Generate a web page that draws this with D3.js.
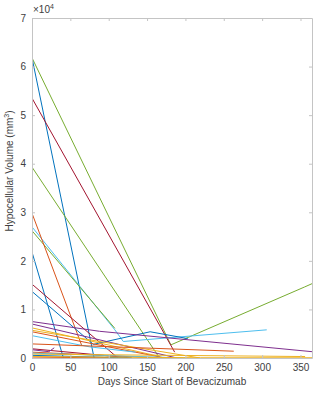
<!DOCTYPE html>
<html>
<head>
<meta charset="utf-8">
<script src="https://cdn.jsdelivr.net/npm/d3@7"></script>
<style>
  body { margin: 0; background: #fff; }
  text { font-family: "Liberation Sans", Arial, sans-serif; fill: #404040; }
</style>
</head>
<body>
<script>
// ---- data : [days since start, hypocellular volume mm3] per patient ----
var p01 = [[0, 61800], [181, 2700], [355, 14600], [365, 15300]];
var p02 = [[0, 61800], [81, 0]];
var p03 = [[0, 53500], [186, 1200]];
var p04 = [[0, 39300], [165, 300]];
var p05 = [[0, 27000], [108, 5800], [119, 3400], [306, 5800]];
var p06 = [[0, 26200], [108, 6100]];
var p07 = [[0, 29800], [65, 2500]];
var p08 = [[0, 21800], [41, 0]];
var p09 = [[0, 15200], [112, 0]];
var p10 = [[0, 13700], [80, 2800], [154, 5400], [203, 4000]];
var p11 = [[0, 7500], [88, 5500], [365, 1300]];
var p12 = [[0, 7000], [189, 0]];
var p13 = [[0, 6200], [167, 300]];
var p14 = [[0, 5700], [219, 0]];
var p15 = [[0, 5400], [170, 100]];
var p16 = [[0, 4600], [75, 2300], [135, 1200]];
var p17 = [[0, 2900], [263, 1400]];
var p18 = [[0, 1900], [130, 0]];
var p19 = [[0, 1700], [22, 1300], [29, 2100]];
var p20 = [[0, 1200], [165, 0]];
var p21 = [[0, 1000], [200, 0]];
var p22 = [[0, 550], [130, 0]];
var p23 = [[0, 200], [100, 0]];
var p24 = [[0, 800], [356, 300]];
var p25 = [[0, 300], [220, 50], [365, 50]];

var patients = [p01, p02, p03, p04, p05, p06, p07, p08, p09, p10, p11, p12, p13,
                p14, p15, p16, p17, p18, p19, p20, p21, p22, p23, p24, p25];

var xTicks = [0, 50, 100, 150, 200, 250, 300, 350];
var yTicks = [0, 10000, 20000, 30000, 40000, 50000, 60000, 70000];

// matlab line colours, one per patient
var blue = "#0072BD", orange = "#D95319", yellow = "#EDB120", purple = "#7E2F8E",
    green = "#77AC30", cyan = "#4DBEEE", red = "#A2142F";
var colors = [green, blue, red, green, cyan, green, orange, blue, red, blue, purple, purple, yellow,
              yellow, orange, cyan, orange, red, purple, orange, cyan, blue, orange, yellow, yellow];

// ---- chart ----
var W = 328, H = 400;
var margin = {top: 18, right: 16, bottom: 42, left: 32};

var svg = d3.select("body").append("svg")
    .attr("width", W)
    .attr("height", H);

var x = d3.scaleLinear().domain([0, 365]).range([margin.left, W - margin.right]);
var y = d3.scaleLinear().domain([0, 70000]).range([H - margin.bottom, margin.top]);

var line = d3.line()
    .x(function(d) { return x(d[0]); })
    .y(function(d) { return y(d[1]); });

var clip = svg.append("clipPath").attr("id", "clip")
  .append("rect")
    .attr("x", x(0)).attr("y", y(70000))
    .attr("width", x(365) - x(0)).attr("height", y(0) - y(70000));

svg.append("g")
    .attr("clip-path", "url(#clip)")
  .selectAll("path")
  .data(patients)
  .enter().append("path")
    .attr("d", line)
    .attr("fill", "none")
    .attr("stroke", function(d, i) { return colors[i]; })
    .attr("stroke-width", 1);

// axes (box with inward ticks, like matlab)
var axisColor = "#c4c4c4";
function styleAxis(g) {
  g.select(".domain").attr("stroke", axisColor);
  g.selectAll(".tick line").attr("stroke", axisColor);
  g.selectAll("text").attr("font-size", 10).attr("fill", "#404040")
    .style("font-family", "'Liberation Sans', Arial, sans-serif");
}

svg.append("g")
    .attr("transform", "translate(0," + y(0) + ")")
    .call(d3.axisBottom(x).tickValues(xTicks).tickSizeInner(-3).tickSizeOuter(0).tickPadding(6))
    .call(styleAxis);

svg.append("g")
    .attr("transform", "translate(0," + y(70000) + ")")
    .call(d3.axisTop(x).tickValues(xTicks).tickSizeInner(-3).tickSizeOuter(0).tickFormat(""))
    .call(styleAxis);

svg.append("g")
    .attr("transform", "translate(" + x(0) + ",0)")
    .call(d3.axisLeft(y).tickValues(yTicks).tickSizeInner(-3).tickSizeOuter(0).tickPadding(6)
      .tickFormat(function(d) { return d / 10000; }))
    .call(styleAxis);

svg.append("g")
    .attr("transform", "translate(" + x(365) + ",0)")
    .call(d3.axisRight(y).tickValues(yTicks).tickSizeInner(-3).tickSizeOuter(0).tickFormat(""))
    .call(styleAxis);

// exponent
var expo = svg.append("text")
    .attr("x", x(0) + 1)
    .attr("y", margin.top - 5)
    .attr("font-size", 10);
expo.append("tspan").text("\u00d710");
expo.append("tspan").attr("dy", -4).attr("font-size", 7).text("4");

// axis labels
svg.append("text")
    .attr("x", (x(0) + x(365)) / 2)
    .attr("y", 385)
    .attr("text-anchor", "middle")
    .attr("font-size", 10)
    .text("Days Since Start of Bevacizumab");

var ylab = svg.append("text")
    .attr("transform", "translate(13,171) rotate(-90)")
    .attr("text-anchor", "middle")
    .attr("font-size", 10);
ylab.append("tspan").text("Hypocellular Volume  (mm");
ylab.append("tspan").attr("dy", -4).attr("font-size", 7).text("3");
ylab.append("tspan").attr("dy", 4).text(")");
</script>
</body>
</html>
